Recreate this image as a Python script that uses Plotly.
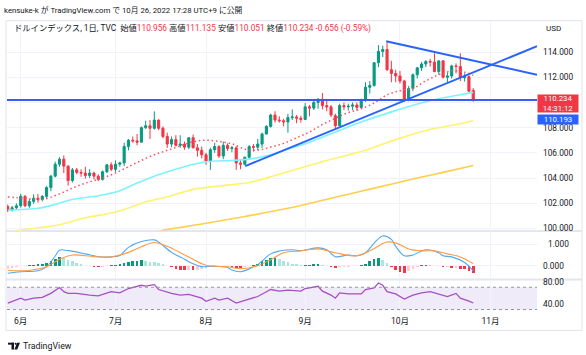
import plotly.graph_objects as go
import pandas as pd

W, H = 586, 355
FONT = "Roboto, 'Noto Sans CJK JP', sans-serif"

# ---------------- data ----------------
dates = pd.bdate_range("2022-05-27", "2022-10-26")   # 109 daily bars
idx = list(range(len(dates)))

opens = [101.75, 101.45, 101.65, 101.80, 102.55, 101.80, 102.15, 102.40, 102.30, 102.55,
         103.25, 104.15, 105.10, 105.50, 104.95, 103.80, 104.65, 104.45, 104.40, 104.20,
         104.40, 104.15, 103.90, 104.50, 105.05, 104.70, 105.10, 105.20, 106.50, 107.00,
         106.95, 106.85, 108.00, 108.15, 107.95, 108.60, 107.95, 107.30, 106.70, 107.05,
         106.60, 106.70, 106.45, 107.20, 106.40, 106.20, 105.85, 105.35, 106.25, 106.50,
         105.75, 106.60, 106.35, 106.40, 105.20, 105.10, 105.65, 106.50, 106.45, 106.70,
         107.50, 108.10, 109.00, 108.60, 108.55, 108.45, 108.80, 108.85, 108.75, 108.65,
         109.65, 109.55, 110.00, 110.25, 109.75, 109.65, 108.95, 108.15, 109.75, 109.65,
         109.70, 109.80, 109.60, 110.20, 111.20, 111.35, 113.15, 114.05, 114.20, 112.60,
         112.30, 112.10, 111.70, 110.20, 111.10, 112.20, 112.75, 113.05, 113.25, 113.20,
         112.45, 113.30, 112.00, 112.10, 112.90, 112.85, 111.95, 112.05, 110.956]
highs = [101.90, 101.80, 102.00, 102.75, 102.65, 102.35, 102.70, 102.75, 102.65, 103.35,
         104.25, 105.30, 105.65, 105.80, 105.00, 104.80, 104.80, 104.70, 104.90, 104.70,
         104.50, 104.30, 104.60, 105.10, 105.25, 105.40, 105.30, 106.80, 107.10, 107.30,
         107.50, 108.10, 108.55, 108.60, 109.29, 108.65, 108.10, 107.60, 107.30, 107.40,
         107.40, 106.90, 107.25, 107.45, 106.70, 106.50, 106.00, 106.40, 106.80, 106.60,
         106.90, 106.75, 106.55, 106.50, 105.45, 105.70, 106.60, 106.70, 107.10, 107.60,
         108.20, 109.10, 109.30, 108.90, 108.70, 109.10, 109.45, 109.00, 108.95, 109.95,
         109.80, 110.25, 110.35, 110.75, 110.20, 109.80, 109.10, 109.90, 110.00, 109.90,
         110.00, 110.00, 110.30, 111.60, 111.70, 113.20, 114.55, 114.50, 114.78, 113.30,
         112.60, 112.50, 111.80, 111.30, 112.30, 112.80, 113.20, 113.35, 113.45, 113.90,
         113.30, 113.35, 112.40, 113.00, 113.10, 113.90, 112.30, 112.15, 111.135]
lows = [101.30, 101.35, 101.50, 101.65, 101.70, 101.65, 101.95, 102.05, 102.15, 102.40,
        102.95, 104.05, 104.90, 104.40, 103.40, 103.65, 104.30, 104.10, 103.95, 104.00,
        103.90, 103.75, 103.80, 104.40, 104.55, 104.50, 104.90, 104.95, 106.20, 106.80,
        106.60, 106.80, 107.90, 107.10, 107.85, 107.80, 107.15, 106.40, 106.45, 106.50,
        106.40, 106.25, 106.30, 106.35, 105.70, 105.55, 105.05, 104.65, 106.00, 105.60,
        105.50, 106.15, 106.05, 104.65, 104.70, 105.00, 105.55, 106.10, 106.20, 106.40,
        107.45, 108.00, 108.40, 108.40, 108.10, 107.60, 108.60, 108.35, 108.40, 108.60,
        108.90, 109.40, 109.50, 109.45, 109.30, 108.85, 107.85, 108.10, 109.40, 109.35,
        109.40, 109.35, 109.55, 110.05, 110.70, 111.25, 112.80, 113.60, 112.50, 111.60,
        111.60, 111.50, 110.05, 110.10, 110.90, 111.90, 112.50, 112.80, 112.85, 112.40,
        112.20, 111.90, 111.60, 111.90, 112.30, 111.70, 111.65, 110.80, 110.051]
closes = [101.45, 101.65, 101.80, 102.55, 101.80, 102.15, 102.40, 102.30, 102.55, 103.25,
          104.15, 105.10, 105.50, 104.95, 103.80, 104.65, 104.45, 104.40, 104.20, 104.40,
          104.15, 103.90, 104.50, 105.05, 104.70, 105.10, 105.20, 106.50, 107.00, 106.95,
          106.85, 108.00, 108.15, 107.95, 108.60, 107.95, 107.30, 106.70, 107.05, 106.60,
          106.70, 106.45, 107.20, 106.40, 106.20, 105.85, 105.35, 106.25, 106.50, 105.75,
          106.60, 106.35, 106.40, 105.20, 105.10, 105.65, 106.50, 106.45, 106.70, 107.50,
          108.10, 109.00, 108.60, 108.55, 108.45, 108.80, 108.85, 108.75, 108.65, 109.65,
          109.55, 110.00, 110.25, 109.75, 109.65, 109.00, 108.15, 109.75, 109.65, 109.70,
          109.80, 109.60, 110.20, 111.20, 111.35, 113.15, 114.05, 114.20, 112.60, 112.30,
          112.10, 111.70, 110.20, 111.10, 112.20, 112.75, 113.05, 113.25, 113.20, 112.45,
          113.30, 112.00, 112.10, 112.90, 112.85, 111.95, 112.05, 110.89, 110.234]

# moving averages (bar index, value)
ma20_x = [0, 4, 8, 12, 16, 19, 22, 25, 28, 31, 34, 37, 40, 43, 46, 49, 52, 55, 58, 61, 64, 67,
          70, 73, 76, 79, 82, 85, 88, 91, 94, 97, 100, 103, 106, 108]
ma20_y = [102.5, 102.4, 102.3, 102.75, 103.35, 103.7, 104.0, 104.4, 104.9, 105.4, 105.85, 106.2,
          106.55, 106.88, 107.0, 106.9, 106.72, 106.3, 106.22, 106.46, 106.75, 107.2, 107.65,
          108.25, 108.74, 109.2, 109.5, 109.95, 110.6, 110.93, 111.12, 111.71, 112.2, 112.49,
          112.4, 112.15]
ma50_x = [0, 7, 11, 15, 21, 26, 30, 34, 38, 42, 46, 52, 56, 61, 65, 70, 76, 82, 90, 98, 104, 108]
ma50_y = [101.45, 101.6, 101.9, 102.3, 102.6, 103.0, 103.6, 104.15, 104.6, 105.0, 105.3, 105.4,
          105.5, 105.85, 106.3, 106.85, 107.65, 108.45, 109.35, 110.15, 110.55, 110.8]
ma100_x = [0, 4, 12, 18, 25, 33, 37, 43, 50, 56, 62, 66, 74, 83, 90, 98, 104, 108]
ma100_y = [99.7, 99.92, 100.3, 100.85, 101.3, 102.2, 102.5, 103.1, 103.4, 103.65, 104.2, 104.6,
           105.4, 106.2, 107.05, 107.85, 108.25, 108.55]
ma200_x = [30, 36, 45, 55, 65, 75, 85, 95, 101, 108]
ma200_y = [99.4, 99.85, 100.35, 100.95, 101.6, 102.4, 103.2, 104.0, 104.45, 105.0]

# drawings: trend lines (bar index, price) and horizontal level
trend_up = [(55.1, 104.95), (122.8, 114.47)]
trend_down = [(87.8, 114.86), (122.8, 112.2)]
hline_price = 110.193
countdown = "14:31:12"

# MACD (12,26,9)
macd_x = [0, 3, 7, 9, 11, 12, 14, 18, 21, 24, 26, 28, 31, 34, 35, 38, 41, 43, 45, 48, 51, 52,
          54, 56, 58, 61, 63, 66, 68, 72, 74, 76, 79, 81, 83, 85, 87, 89, 90, 92, 94, 97, 100,
          101, 103, 106, 108]
macd_y = [-0.35, -0.28, -0.23, -0.05, 0.45, 0.72, 0.7, 0.55, 0.42, 0.41, 0.48, 0.85, 1.12, 1.2,
          1.1, 0.62, 0.3, 0.09, -0.04, -0.02, -0.08, -0.2, -0.28, -0.15, 0.05, 0.55, 0.68, 0.74,
          0.7, 0.83, 0.74, 0.42, 0.5, 0.46, 0.6, 1.05, 1.38, 1.22, 0.9, 0.46, 0.5, 0.74, 0.6,
          0.46, 0.41, 0.15, -0.25]
signal_x = [0, 4, 9, 12, 15, 20, 24, 28, 31, 34, 37, 42, 46, 51, 54, 58, 61, 64, 68, 72, 76,
            81, 84, 88, 90, 93, 96, 99, 102, 105, 108]
signal_y = [-0.22, -0.23, -0.05, 0.3, 0.5, 0.42, 0.41, 0.62, 0.88, 1.08, 0.9, 0.4, 0.02, -0.05,
            -0.14, 0.0, 0.28, 0.6, 0.69, 0.78, 0.6, 0.46, 0.69, 1.1, 1.06, 0.78, 0.69, 0.69, 0.55,
            0.41, 0.1]
hist = [-0.14, -0.10, -0.06, -0.03, 0.00, 0.02, 0.05, 0.06, 0.08, 0.12,
        0.22, 0.33, 0.42, 0.38, 0.27, 0.20, 0.12, 0.06, 0.01, -0.03,
        -0.05, -0.06, -0.04, -0.01, 0.02, 0.04, 0.06, 0.12, 0.17, 0.20,
        0.23, 0.25, 0.22, 0.18, 0.15, 0.12, 0.06, 0.00, -0.08, -0.14,
        -0.18, -0.20, -0.20, -0.22, -0.19, -0.15, -0.12, -0.08, -0.05, -0.02,
        -0.01, -0.03, -0.05, -0.10, -0.12, -0.08, -0.02, 0.04, 0.10, 0.20,
        0.28, 0.35, 0.35, 0.30, 0.24, 0.16, 0.10, 0.06, 0.02, 0.04,
        0.05, 0.06, 0.06, 0.03, 0.01, -0.06, -0.12, -0.07, -0.05, -0.04,
        -0.03, -0.02, 0.03, 0.10, 0.20, 0.30, 0.38, 0.27, 0.14, -0.05,
        -0.20, -0.28, -0.32, -0.25, -0.16, -0.06, 0.02, 0.05, 0.04, -0.01,
        -0.02, -0.08, -0.06, -0.10, -0.10, -0.16, -0.17, -0.25, -0.35]
macd_ticks = [0, 1]

# RSI(14)
rsi_x = [0, 1, 3, 4, 6, 8, 10, 12, 13, 14, 16, 19, 21, 24, 26, 28, 31, 32, 34, 35, 38, 40, 42,
         45, 46, 48, 49, 51, 53, 55, 58, 60, 61, 63, 65, 68, 69, 72, 73, 75, 76, 77, 79, 82, 83,
         85, 86, 87, 88, 90, 92, 94, 96, 98, 100, 102, 104, 105, 107, 108]
rsi_y = [41.7, 44.7, 50.4, 47, 50.4, 52, 59, 69.6, 62, 59, 59, 56, 54.5, 62, 60, 67.8, 73.6, 72,
         74.8, 66, 59, 56, 57.4, 50.4, 44.7, 50.4, 47, 50.4, 41.7, 46.4, 53.4, 62, 66, 63, 64.9,
         63, 67.8, 71.8, 63, 56, 50.4, 60, 58, 58, 66, 69, 77.7, 73.6, 62, 58, 48.7, 56, 60, 62,
         57.4, 53.4, 59, 50.4, 45, 41.7]

# month tick positions on the bar-index axis
cal = pd.bdate_range("2022-05-27", "2022-11-30")
month_pos = [i for i in range(1, len(cal)) if cal[i].month != cal[i - 1].month]
month_text = [f"{cal[i].month}月" for i in month_pos]

price_ticks = [100, 102, 104, 106, 108, 110, 112, 114]
price_ticktext = ["" if v == 110 else f"{v:.3f}" for v in price_ticks]

# ---------------- styles ----------------
UP, DOWN = "#089981", "#F23645"
GRID = "#F0F3FA"
BORDER = "#E0E3EB"
TEXT = "#131722"


def py(p):  # pixel row -> paper y
    return 1 - p / H


def px(p):  # pixel column -> paper x
    return p / W


X_DOM = [px(7), px(537)]
X_RANGE = [-0.18, 122.79]
PRICE_DOM = [py(231), py(17)]
MACD_DOM = [py(280), py(232)]
RSI_DOM = [py(314), py(282)]
MACD_RANGE = [-0.591, 1.591]


def macd_paper(v):  # MACD value -> paper y through the MACD pane scale
    return MACD_DOM[0] + (v - MACD_RANGE[0]) / (MACD_RANGE[1] - MACD_RANGE[0]) * (MACD_DOM[1] - MACD_DOM[0])


fig = go.Figure()

# moving averages
fig.add_trace(go.Scatter(x=ma200_x, y=ma200_y, mode="lines", line=dict(color="#FFCF4A", width=1.6, shape="spline"), xaxis="x", yaxis="y"))
fig.add_trace(go.Scatter(x=ma100_x, y=ma100_y, mode="lines", line=dict(color="#FFF36E", width=1.6, shape="spline"), xaxis="x", yaxis="y"))
fig.add_trace(go.Scatter(x=ma50_x, y=ma50_y, mode="lines", line=dict(color="#7DF3FF", width=1.6, shape="spline"), xaxis="x", yaxis="y"))
fig.add_trace(go.Scatter(x=ma20_x, y=ma20_y, mode="lines", line=dict(color="#F7525F", width=1.5, dash="1.5px,2.8px", shape="spline"), xaxis="x", yaxis="y"))

fig.add_trace(go.Candlestick(
    x=idx, open=opens, high=highs, low=lows, close=closes, xaxis="x", yaxis="y",
    increasing=dict(line=dict(color=UP, width=1), fillcolor=UP),
    decreasing=dict(line=dict(color=DOWN, width=1), fillcolor=DOWN),
    whiskerwidth=0, hoverinfo="skip"))

# MACD histogram colours (growing / falling)
hcol = []
for i, h in enumerate(hist):
    prev = hist[i - 1] if i else h
    if h >= 0:
        hcol.append("#089981" if h >= prev else "#ACE5DC")
    else:
        hcol.append("#F23645" if h < prev else "#FCCBCD")
fig.add_trace(go.Bar(x=idx, y=hist, marker=dict(color=hcol, line=dict(width=0)), width=0.62, xaxis="x", yaxis="y2"))
fig.add_trace(go.Scatter(x=macd_x, y=macd_y, mode="lines", line=dict(color="#4FA8F5", width=1.1, shape="spline"), xaxis="x", yaxis="y2"))
fig.add_trace(go.Scatter(x=signal_x, y=signal_y, mode="lines", line=dict(color="#FF9A45", width=1.1, shape="spline"), xaxis="x", yaxis="y2"))

fig.add_trace(go.Scatter(x=rsi_x, y=rsi_y, mode="lines", line=dict(color="#A64FC4", width=1.3), xaxis="x", yaxis="y3"))

shapes = [
    # outer frame and pane separators
    dict(type="rect", xref="paper", yref="paper", x0=px(6), x1=px(582), y0=py(333), y1=py(17),
         line=dict(color=BORDER, width=1), fillcolor="rgba(0,0,0,0)", layer="below"),
    dict(type="line", xref="paper", yref="paper", x0=px(6), x1=px(582), y0=py(231.5), y1=py(231.5),
         line=dict(color="#E3E6EE", width=2), layer="below"),
    dict(type="line", xref="paper", yref="paper", x0=px(6), x1=px(582), y0=py(281), y1=py(281),
         line=dict(color="#E3E6EE", width=2), layer="below"),
    # RSI band
    dict(type="rect", xref="x domain", yref="y3", x0=0, x1=1, y0=30, y1=70,
         fillcolor="rgba(126,87,194,0.12)", line=dict(width=0), layer="below"),
    dict(type="line", xref="x domain", yref="y3", x0=0, x1=1, y0=70, y1=70,
         line=dict(color="#9598A1", width=1, dash="3px,3px")),
    dict(type="line", xref="x domain", yref="y3", x0=0, x1=1, y0=30, y1=30,
         line=dict(color="#9598A1", width=1, dash="3px,3px")),
    # drawings
    dict(type="line", xref="x domain", yref="y", x0=0, x1=1, y0=hline_price, y1=hline_price,
         line=dict(color="#3D5AF1", width=2)),
    dict(type="line", xref="x", yref="y", x0=trend_up[0][0], y0=trend_up[0][1],
         x1=trend_up[1][0], y1=trend_up[1][1], line=dict(color="#2962FF", width=2)),
    dict(type="line", xref="x", yref="y", x0=trend_down[0][0], y0=trend_down[0][1],
         x1=trend_down[1][0], y1=trend_down[1][1], line=dict(color="#2962FF", width=2)),
    # TradingView logo
    dict(type="rect", xref="paper", yref="paper", x0=px(8), x1=px(14), y0=py(347.5), y1=py(345.5),
         fillcolor=TEXT, line=dict(width=0)),
    dict(type="rect", xref="paper", yref="paper", x0=px(11.5), x1=px(14), y0=py(352.5), y1=py(345.5),
         fillcolor=TEXT, line=dict(width=0)),
    dict(type="circle", xref="paper", yref="paper", x0=px(14.6), x1=px(16.6), y0=py(347.6), y1=py(345.6),
         fillcolor=TEXT, line=dict(width=0)),
    dict(type="path", xref="paper", yref="paper",
         path=f"M {px(17)},{py(345.5)} L {px(20)},{py(345.5)} L {px(17.2)},{py(352.5)} L {px(14.4)},{py(352.5)} Z",
         fillcolor=TEXT, line=dict(width=0)),
]

red = "#F23645"
chg = closes[-1] - closes[-2]
pct = chg / closes[-2] * 100
legend_html = (
    "ドルインデックス, 1日, TVC&nbsp;&nbsp;"
    f"始値<span style='color:{red}'>{opens[-1]:.3f}</span> "
    f"高値<span style='color:{red}'>{highs[-1]:.3f}</span> "
    f"安値<span style='color:{red}'>{lows[-1]:.3f}</span> "
    f"終値<span style='color:{red}'>{closes[-1]:.3f}</span> "
    f"<span style='color:{red}'>{chg:+.3f} ({pct:+.2f}%)</span>"
)

annotations = [
    dict(text="kensuke-k が TradingView.com で 10月 26, 2022 17:28 UTC+9 に公開", xref="paper", yref="paper",
         x=px(2), y=py(6), xanchor="left", yanchor="middle", showarrow=False,
         font=dict(size=7.8, color=TEXT)),
    dict(text=legend_html, xref="paper", yref="paper", x=px(12), y=py(25.5), xanchor="left",
         yanchor="middle", showarrow=False, font=dict(size=8.3, color=TEXT)),
    dict(text="USD", xref="paper", yref="paper", x=px(544), y=py(25), xanchor="left", yanchor="middle",
         showarrow=False, font=dict(size=8, color=TEXT)),
    dict(text=f"{closes[-1]:.3f}<br>{countdown}", xref="paper", yref="y", x=px(537), y=closes[-1],
         xanchor="left", yanchor="middle", yshift=-4, showarrow=False, bgcolor="#F23645",
         width=40, height=17, borderpad=0, align="center", font=dict(size=7.8, color="white")),
    dict(text=f"{hline_price:.3f}", xref="paper", yref="y", x=px(537), y=hline_price,
         xanchor="left", yanchor="middle", yshift=-19.5, showarrow=False, bgcolor="#2962FF",
         width=40, height=9, borderpad=0, align="center", font=dict(size=7.8, color="white")),
    # upper MACD scale label, placed through the MACD pane scale
    dict(text=f"{macd_ticks[1]:.3f}", xref="paper", yref="paper", x=px(571), y=macd_paper(macd_ticks[1]),
         xanchor="right", yanchor="middle", showarrow=False, bgcolor="white",
         font=dict(size=8.3, color=TEXT, family="Roboto")),
    dict(text="TradingView", xref="paper", yref="paper", x=px(21), y=py(349), xanchor="left",
         yanchor="middle", showarrow=False, font=dict(size=8.8, color=TEXT)),
]

fig.update_layout(
    width=W, height=H, margin=dict(l=0, r=0, t=0, b=0),
    paper_bgcolor="white", plot_bgcolor="white", showlegend=False, hovermode=False,
    font=dict(family=FONT, size=8.5, color=TEXT),
    xaxis=dict(domain=X_DOM, range=X_RANGE, anchor="y3", tickvals=month_pos, ticktext=month_text,
               showgrid=True, gridcolor=GRID, gridwidth=1, zeroline=False, showline=False, ticks="",
               rangeslider=dict(visible=False), tickfont=dict(size=8.5, color=TEXT), ticklabelstandoff=3),
    yaxis=dict(domain=PRICE_DOM, range=[99.844, 116.489], side="right", anchor="x",
               tickvals=price_ticks, ticktext=price_ticktext, showgrid=True, gridcolor=GRID,
               zeroline=False, showline=False, ticks="", ticklabelstandoff=5,
               tickfont=dict(size=8.3, color=TEXT)),
    yaxis2=dict(domain=MACD_DOM, range=MACD_RANGE, side="right", anchor="x",
                tickvals=macd_ticks, ticktext=[f"{macd_ticks[0]:.3f}", ""], showgrid=True, gridcolor=GRID,
                zeroline=False, showline=False, ticks="", ticklabelstandoff=5,
                tickfont=dict(size=8.3, color=TEXT)),
    yaxis3=dict(domain=RSI_DOM, range=[25.9, 82.3], side="right", anchor="x",
                tickvals=[40, 80], ticktext=["40.00", "80.00"], showgrid=False,
                zeroline=False, showline=False, ticks="", ticklabelstandoff=5,
                tickfont=dict(size=8.3, color=TEXT)),
    shapes=shapes, annotations=annotations, bargap=0,
)

fig.write_html(
    "out.html",
    config={"displayModeBar": False, "staticPlot": True},
    post_script="document.body.style.margin='0';document.body.style.padding='0';"
                "document.body.style.overflow='hidden';",
)
